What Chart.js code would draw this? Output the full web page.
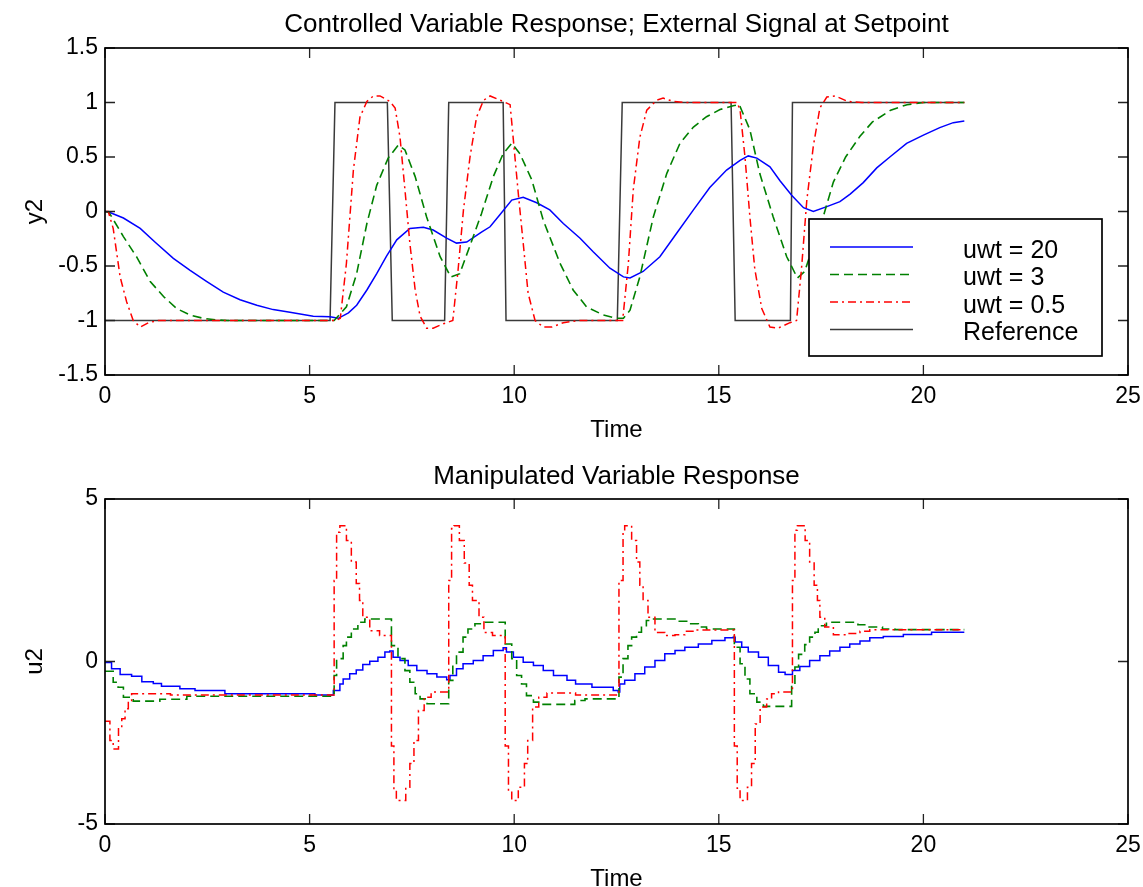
<!DOCTYPE html>
<html lang="en">
<head>
<meta charset="UTF-8">
<title>Controlled and Manipulated Variable Response</title>
<script src="https://cdn.jsdelivr.net/npm/chart.js"></script>
<style>
  html, body { margin: 0; padding: 0; background: #fff; width: 1143px; height: 887px; overflow: hidden; }
  canvas { position: absolute; left: 0; }
  #topChart { top: 0; }
  #bottomChart { top: 445px; }
</style>
</head>
<body>
<canvas id="topChart" width="1143" height="445"></canvas>
<canvas id="bottomChart" width="1143" height="452"></canvas>
<script>
// [time, value]
const y2Uwt20 = [[0,0],[0.12,-0.01],[0.45,-0.06],[0.86,-0.155],[1.22,-0.28],[1.67,-0.43],[2.08,-0.54],[2.48,-0.64],[2.89,-0.74],[3.3,-0.81],[3.71,-0.86],[4.11,-0.9],[4.52,-0.925],[5.09,-0.96],[5.5,-0.965],[5.7,-0.98],[5.95,-0.93],[6.15,-0.86],[6.4,-0.72],[6.64,-0.57],[6.88,-0.41],[7.13,-0.26],[7.45,-0.155],[7.78,-0.145],[8.02,-0.17],[8.35,-0.245],[8.59,-0.29],[8.84,-0.28],[9.2,-0.19],[9.41,-0.14],[9.65,-0.03],[9.94,0.105],[10.22,0.13],[10.55,0.08],[10.87,0.015],[11.2,-0.11],[11.61,-0.245],[11.93,-0.37],[12.34,-0.52],[12.67,-0.6],[12.83,-0.61],[13.15,-0.55],[13.56,-0.415],[13.97,-0.2],[14.38,0.015],[14.78,0.22],[15.19,0.38],[15.52,0.47],[15.72,0.51],[15.93,0.49],[16.25,0.41],[16.5,0.28],[16.78,0.15],[17.07,0.035],[17.31,0],[17.64,0.045],[17.96,0.09],[18.21,0.16],[18.53,0.265],[18.86,0.4],[19.18,0.5],[19.59,0.625],[20,0.7],[20.4,0.77],[20.73,0.815],[21,0.83]];
const y2Uwt3 = [[0,0],[0.1,-0.01],[0.45,-0.23],[0.77,-0.415],[1.1,-0.64],[1.43,-0.78],[1.75,-0.89],[2.08,-0.95],[2.4,-0.98],[2.73,-0.995],[3,-1],[5.6,-1],[5.9,-0.875],[6.15,-0.57],[6.4,-0.11],[6.64,0.24],[6.92,0.49],[7.17,0.61],[7.33,0.565],[7.58,0.32],[7.86,-0.05],[8.19,-0.415],[8.45,-0.6],[8.67,-0.57],[9,-0.23],[9.2,-0.02],[9.49,0.32],[9.73,0.53],[9.94,0.625],[10.14,0.53],[10.43,0.29],[10.71,-0.08],[11.12,-0.475],[11.44,-0.72],[11.77,-0.875],[12.18,-0.95],[12.5,-0.98],[12.67,-0.98],[12.83,-0.905],[13.07,-0.6],[13.4,-0.05],[13.73,0.35],[14.05,0.625],[14.38,0.775],[14.7,0.87],[15.03,0.935],[15.35,0.97],[15.5,0.98],[15.76,0.75],[16,0.35],[16.33,-0.05],[16.66,-0.415],[16.92,-0.61],[17.1,-0.55],[17.3,-0.32],[17.55,-0.05],[17.8,0.27],[18.1,0.5],[18.45,0.69],[18.75,0.82],[19.2,0.93],[19.6,0.98],[20,1],[21,1]];
const y2Uwt05 = [[0,0],[0.08,0],[0.2,-0.155],[0.37,-0.6],[0.53,-0.83],[0.69,-1],[0.86,-1.06],[1.06,-1.02],[1.3,-1],[5.65,-1],[5.75,-0.98],[5.9,-0.475],[6.07,0.38],[6.23,0.865],[6.4,1.01],[6.56,1.06],[6.72,1.06],[6.96,1.01],[7.09,0.95],[7.21,0.68],[7.33,0.2],[7.45,-0.29],[7.58,-0.72],[7.7,-0.96],[7.86,-1.07],[8.02,-1.07],[8.27,-1.03],[8.5,-1],[8.63,-0.53],[8.76,0.015],[8.92,0.5],[9.08,0.865],[9.25,1.02],[9.41,1.06],[9.73,1.01],[9.9,0.98],[9.98,0.655],[10.1,0.165],[10.22,-0.29],[10.34,-0.75],[10.51,-1],[10.71,-1.06],[10.92,-1.06],[11.2,-1.02],[11.6,-1],[12.65,-1],[12.79,-0.475],[12.91,0.2],[13.07,0.68],[13.24,0.93],[13.48,1.02],[13.64,1.04],[13.89,1.01],[14.2,1],[15.45,1],[15.52,0.93],[15.64,0.5],[15.76,-0.05],[15.88,-0.53],[16.05,-0.89],[16.25,-1.06],[16.45,-1.07],[16.74,-1.02],[16.9,-1],[17.02,-0.53],[17.15,0.1],[17.31,0.6],[17.47,0.95],[17.64,1.05],[17.85,1.06],[18.15,1.01],[18.5,1],[21,1]];
const y2Reference = [[0,-1],[5.5,-1],[5.62,1],[6.9,1],[7.02,-1],[8.3,-1],[8.4,1],[9.73,1],[9.8,-1],[12.52,-1],[12.64,1],[15.3,1],[15.4,-1],[16.75,-1],[16.8,1],[21,1]];

// manipulated variable: each point starts a held level
const u2Uwt20 = [[0,-0.03],[0.16,-0.22],[0.37,-0.4],[0.65,-0.45],[0.9,-0.62],[1.18,-0.68],[1.38,-0.76],[1.83,-0.84],[2.2,-0.89],[2.93,-0.99],[5.13,-1.03],[5.58,-0.89],[5.74,-0.69],[5.82,-0.54],[5.98,-0.38],[6.14,-0.26],[6.3,-0.09],[6.47,0.01],[6.67,0.13],[6.84,0.29],[6.96,0.32],[7.04,0.13],[7.21,0.03],[7.41,-0.12],[7.62,-0.28],[7.87,-0.38],[8.11,-0.48],[8.35,-0.56],[8.43,-0.43],[8.59,-0.22],[8.75,-0.07],[9,0.03],[9.24,0.18],[9.49,0.34],[9.73,0.42],[9.81,0.29],[9.98,0.13],[10.22,-0.02],[10.47,-0.12],[10.71,-0.28],[10.96,-0.43],[11.29,-0.58],[11.5,-0.69],[11.9,-0.79],[12.42,-0.89],[12.54,-0.94],[12.58,-0.69],[12.7,-0.58],[12.95,-0.38],[13.19,-0.17],[13.44,0.03],[13.68,0.24],[13.93,0.34],[14.17,0.44],[14.5,0.54],[14.83,0.65],[15.15,0.73],[15.35,0.75],[15.4,0.6],[15.56,0.44],[15.72,0.29],[15.97,0.13],[16.21,-0.12],[16.46,-0.33],[16.62,-0.4],[16.8,-0.28],[16.98,-0.15],[17.22,0.03],[17.47,0.18],[17.71,0.32],[17.96,0.44],[18.2,0.54],[18.45,0.63],[18.69,0.73],[19.02,0.77],[19.51,0.83],[20.2,0.9],[21,0.9]];
const u2Uwt3 = [[0,-0.3],[0.2,-0.64],[0.32,-0.79],[0.45,-1.1],[0.69,-1.22],[1.34,-1.16],[2,-1.07],[5.6,-0.43],[5.66,0.09],[5.82,0.49],[5.9,0.75],[6.02,1],[6.18,1.21],[6.35,1.31],[7,0.49],[7.16,0.09],[7.33,-0.28],[7.45,-0.64],[7.58,-0.99],[7.7,-1.15],[7.87,-1.3],[8.4,-0.58],[8.5,-0.12],[8.59,0.29],[8.75,0.75],[8.87,1],[9.04,1.16],[9.24,1.21],[9.78,0.54],[9.94,0.09],[10.06,-0.43],[10.18,-0.69],[10.3,-1.05],[10.47,-1.25],[10.63,-1.32],[11.48,-1.2],[11.73,-1.15],[12.56,-0.48],[12.66,0.09],[12.78,0.49],[12.87,0.75],[12.99,0.9],[13.11,1.1],[13.23,1.26],[13.35,1.31],[14,1.24],[14.29,1.16],[14.5,1.06],[14.7,1],[15.38,0.44],[15.52,-0.07],[15.64,-0.54],[15.76,-0.99],[15.93,-1.25],[16.09,-1.38],[16.78,-0.69],[16.86,-0.17],[16.95,0.22],[17.1,0.52],[17.22,0.75],[17.35,0.9],[17.43,1.1],[17.63,1.21],[18.4,1.13],[18.65,1.06],[19,1],[19.3,0.98],[21,0.98]];
const u2Uwt05 = [[0,-1.84],[0.12,-2.43],[0.2,-2.69],[0.33,-2.07],[0.41,-1.76],[0.49,-1.45],[0.57,-1.2],[0.65,-0.99],[1.6,-1.03],[5.6,2.49],[5.66,3.98],[5.74,4.18],[5.9,3.72],[6.02,3.06],[6.14,2.4],[6.22,1.88],[6.3,1.36],[6.47,0.95],[6.71,0.8],[7,-2.6],[7.06,-4],[7.12,-4.28],[7.35,-3.87],[7.45,-3.14],[7.55,-2.43],[7.66,-1.51],[7.8,-1.1],[7.97,-0.94],[8.4,2.49],[8.47,4.09],[8.53,4.18],[8.66,3.72],[8.78,3.03],[8.9,2.35],[8.98,1.88],[9.14,1.36],[9.26,0.89],[9.47,0.8],[9.78,-2.6],[9.86,-4],[9.94,-4.28],[10.1,-3.87],[10.25,-3.14],[10.33,-2.43],[10.45,-1.4],[10.6,-1.1],[10.8,-0.97],[11.5,-1.03],[12.56,2.49],[12.66,3.98],[12.7,4.18],[12.87,3.72],[12.99,3.06],[13.07,2.35],[13.15,1.88],[13.27,1.36],[13.44,0.89],[13.68,0.8],[13.93,0.82],[14.17,0.93],[14.41,0.97],[15.38,-2.6],[15.45,-3.9],[15.52,-4.28],[15.7,-3.87],[15.8,-3.14],[15.89,-1.92],[16.01,-1.4],[16.17,-1.15],[16.29,-0.99],[16.46,-0.94],[16.8,2.49],[16.86,4.04],[16.92,4.18],[17.11,3.72],[17.22,3.06],[17.33,2.35],[17.41,1.88],[17.47,1.36],[17.59,1.06],[17.8,0.82],[18.12,0.86],[18.45,0.93],[18.69,0.98],[21,0.98]];

const xTicksMax = 25;
const y2Ticks = [-1.5, 1.5, 0.5];   // min, max, step
const u2Ticks = [-5, 5, 5];

const FONT = "'Liberation Sans', Arial, Helvetica, sans-serif";
Chart.defaults.font.family = FONT;
Chart.defaults.color = '#000';

const toXY = arr => arr.map(p => ({x: p[0], y: p[1]}));

// title centred over the plot box, not the canvas
const plotTitle = {
  id: 'plotTitle',
  afterDraw(chart, args, opts) {
    const {ctx, chartArea: a} = chart;
    ctx.save();
    ctx.fillStyle = '#000';
    ctx.font = '26px ' + FONT;
    ctx.textAlign = 'center';
    ctx.textBaseline = 'middle';
    ctx.fillText(opts.text, (a.left + a.right) / 2, opts.y);
    ctx.restore();
  }
};

// frame + inward ticks on all four sides, like the original figure
const frameTicks = {
  id: 'frameTicks',
  afterDatasetsDraw(chart) {
    const {ctx, chartArea: a, scales: {x, y}} = chart;
    ctx.save();
    ctx.strokeStyle = '#222';
    ctx.lineWidth = 1.3;
    ctx.beginPath();
    x.ticks.forEach(t => {
      const px = x.getPixelForValue(t.value);
      ctx.moveTo(px, a.bottom); ctx.lineTo(px, a.bottom - 10);
      ctx.moveTo(px, a.top); ctx.lineTo(px, a.top + 10);
    });
    y.ticks.forEach(t => {
      const py = y.getPixelForValue(t.value);
      ctx.moveTo(a.left, py); ctx.lineTo(a.left + 10, py);
      ctx.moveTo(a.right, py); ctx.lineTo(a.right - 10, py);
    });
    ctx.stroke();
    ctx.strokeStyle = '#000';
    ctx.lineWidth = 1.7;
    ctx.strokeRect(a.left, a.top, a.right - a.left, a.bottom - a.top);
    ctx.restore();
  }
};

// boxed legend inside the plot area (top chart)
const boxLegend = {
  id: 'boxLegend',
  afterDraw(chart) {
    const ctx = chart.ctx;
    ctx.save();
    ctx.fillStyle = '#fff';
    ctx.fillRect(809, 219, 293, 137);
    ctx.strokeStyle = '#000';
    ctx.lineWidth = 1.7;
    ctx.strokeRect(809, 219, 293, 137);
    chart.data.datasets.forEach((ds, i) => {
      const yy = 247 + i * 27.5;
      ctx.strokeStyle = ds.borderColor;
      ctx.lineWidth = ds.borderWidth;
      ctx.setLineDash(ds.borderDash || []);
      ctx.beginPath();
      ctx.moveTo(830, yy);
      ctx.lineTo(913, yy);
      ctx.stroke();
      ctx.setLineDash([]);
      ctx.fillStyle = '#000';
      ctx.font = '25px ' + FONT;
      ctx.textBaseline = 'middle';
      ctx.fillText(ds.label, 963, yy + 4);
    });
    ctx.restore();
  }
};

function makeOptions(title, titleY, yTitle, ticks, topPad, tickPad, xTitlePad, xHeight) {
  return {
    responsive: false,
    animation: false,
    layout: {padding: {left: 0, right: 15, top: topPad, bottom: 0}},
    plugins: {
      legend: {display: false},
      tooltip: {enabled: false},
      title: {display: false},
      plotTitle: {text: title, y: titleY}
    },
    scales: {
      x: {
        type: 'linear', min: 0, max: xTicksMax,
        ticks: {stepSize: 5, font: {size: 23}, padding: tickPad, maxRotation: 0},
        grid: {display: false, drawTicks: false},
        border: {display: false},
        title: {display: true, text: 'Time', font: {size: 24}, padding: {top: 0, bottom: xTitlePad}},
        afterFit: s => { s.height = xHeight; s.paddingLeft = 0; s.paddingRight = 0; }
      },
      y: {
        type: 'linear', min: ticks[0], max: ticks[1],
        ticks: {stepSize: ticks[2], font: {size: 23}, padding: 7, callback: v => String(Number(v.toFixed(2)))},
        grid: {display: false, drawTicks: false},
        border: {display: false},
        title: {display: true, text: yTitle, font: {size: 24}, padding: {top: 21, bottom: 0}},
        afterFit: s => { s.width = 105; s.paddingTop = 0; s.paddingBottom = 0; }
      }
    },
    elements: {point: {radius: 0}, line: {tension: 0}}
  };
}

new Chart(document.getElementById('topChart'), {
  type: 'line',
  data: {
    datasets: [
      {label: 'uwt = 20', data: toXY(y2Uwt20), borderColor: '#0000ff', borderWidth: 1.5, order: 3},
      {label: 'uwt = 3', data: toXY(y2Uwt3), borderColor: '#008000', borderWidth: 1.6, borderDash: [9, 5], order: 2},
      {label: 'uwt = 0.5', data: toXY(y2Uwt05), borderColor: '#ff0000', borderWidth: 1.5, borderDash: [8, 4, 2, 4], order: 1},
      {label: 'Reference', data: toXY(y2Reference), borderColor: '#3a3a3a', borderWidth: 1.5, order: 4}
    ]
  },
  options: makeOptions('Controlled Variable Response; External Signal at Setpoint', 25, 'y2', y2Ticks, 48, 8, 0.6, 70),
  plugins: [frameTicks, boxLegend, plotTitle]
});

new Chart(document.getElementById('bottomChart'), {
  type: 'line',
  data: {
    datasets: [
      {label: 'uwt = 20', data: toXY(u2Uwt20), borderColor: '#0000ff', borderWidth: 1.5, stepped: 'before', order: 3},
      {label: 'uwt = 3', data: toXY(u2Uwt3), borderColor: '#008000', borderWidth: 1.6, borderDash: [9, 5], stepped: 'before', order: 2},
      {label: 'uwt = 0.5', data: toXY(u2Uwt05), borderColor: '#ff0000', borderWidth: 1.5, borderDash: [8, 4, 2, 4], stepped: 'before', order: 1}
    ]
  },
  options: makeOptions('Manipulated Variable Response', 32, 'u2', u2Ticks, 54, 8, 3.6, 73),
  plugins: [frameTicks, plotTitle]
});
</script>
</body>
</html>
